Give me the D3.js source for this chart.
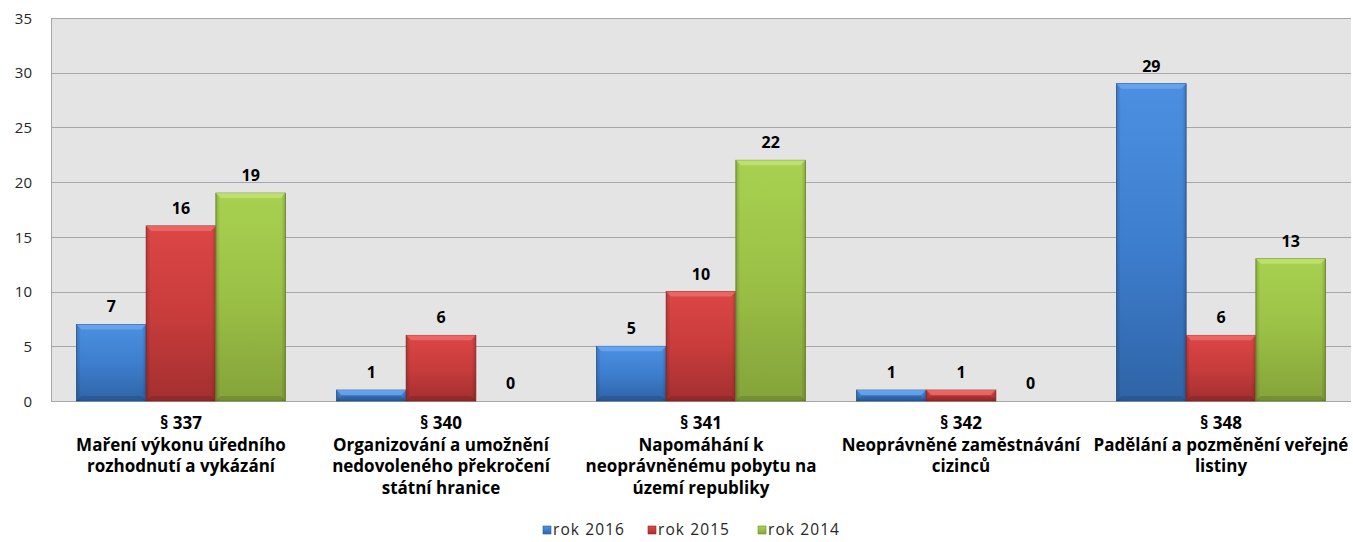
<!DOCTYPE html>
<html><head><meta charset="utf-8">
<script src="https://cdn.jsdelivr.net/npm/d3@7"></script>
<style>
html,body{margin:0;padding:0;background:#fff;}
svg{display:block;}
text{font-family:"Open Sans",sans-serif;}
</style></head>
<body>
<svg id="chart" width="1353" height="542"></svg>
<script>
const categories = [
  ["§ 337","Maření výkonu úředního","rozhodnutí a vykázání"],
  ["§ 340","Organizování a umožnění","nedovoleného překročení","státní hranice"],
  ["§ 341","Napomáhání k","neoprávněnému pobytu na","území republiky"],
  ["§ 342","Neoprávněné zaměstnávání","cizinců"],
  ["§ 348","Padělání a pozměnění veřejné","listiny"]
];
const seriesNames = ["rok 2016","rok 2015","rok 2014"];
const rok2016 = [7, 1, 5, 1, 29];
const rok2015 = [16, 6, 10, 1, 6];
const rok2014 = [19, 0, 22, 0, 13];
const yTicks = [0, 5, 10, 15, 20, 25, 30, 35];

const seriesValues = [rok2016, rok2015, rok2014];
const palette = [
  {top:"#4c8fe0", mid:"#3e7ecf", bot:"#2f64a6", edge:"#2a5a96", hi:"#6eaaf0"},
  {top:"#dc4646", mid:"#c93c3c", bot:"#a32f2f", edge:"#8f2828", hi:"#f07070"},
  {top:"#a8d150", mid:"#9bc046", bot:"#84a33a", edge:"#6f8a30", hi:"#c4e676"}
];

const svg = d3.select("#chart");
const pLeft = 51, pRight = 1351, pTop = 18, pBottom = 401;

const y = d3.scaleLinear().domain([0, 35]).range([pBottom, pTop]);
const x0 = d3.scaleBand().domain(d3.range(categories.length)).range([pLeft, pRight])
  .paddingInner(0.196).paddingOuter(0.098);
const x1 = d3.scaleBand().domain(d3.range(seriesNames.length)).range([0, x0.bandwidth()]);

const defs = svg.append("defs");
palette.forEach((p, i) => {
  const g = defs.append("linearGradient").attr("id", "g" + i).attr("x1", 0).attr("y1", 0).attr("x2", 0).attr("y2", 1);
  g.append("stop").attr("offset", "0%").attr("stop-color", p.top);
  g.append("stop").attr("offset", "50%").attr("stop-color", p.mid);
  g.append("stop").attr("offset", "100%").attr("stop-color", p.bot);
});
const side = defs.append("linearGradient").attr("id", "side").attr("x1", 0).attr("y1", 0).attr("x2", 1).attr("y2", 0);
side.append("stop").attr("offset", "0%").attr("stop-color", "#000").attr("stop-opacity", 0.18);
side.append("stop").attr("offset", "6%").attr("stop-color", "#000").attr("stop-opacity", 0);
side.append("stop").attr("offset", "94%").attr("stop-color", "#000").attr("stop-opacity", 0);
side.append("stop").attr("offset", "100%").attr("stop-color", "#000").attr("stop-opacity", 0.18);

// plot background
svg.append("rect").attr("x", pLeft).attr("y", pTop).attr("width", pRight - pLeft).attr("height", pBottom - pTop)
  .attr("fill", "#e4e4e4");

// gridlines
svg.append("g").selectAll("line").data(yTicks.filter(t => t > 0)).join("line")
  .attr("x1", pLeft).attr("x2", pRight).attr("y1", d => Math.round(y(d)) + 0.5).attr("y2", d => Math.round(y(d)) + 0.5)
  .attr("stroke", "#a6a6a6").attr("stroke-width", 1);

// y axis
const yAxis = d3.axisLeft(y).tickValues(yTicks).tickSize(0).tickPadding(0).tickFormat(d3.format("d"));
const ya = svg.append("g").attr("transform", `translate(${pLeft},0)`).call(yAxis);
ya.select(".domain").attr("stroke", "#a6a6a6").attr("shape-rendering", "crispEdges");
ya.selectAll("text").attr("x", -19).attr("font-size", 15).attr("fill", "#262626")
  .attr("font-family", "'DejaVu Sans', sans-serif").attr("dy", "0.35em");

// bottom axis line
svg.append("line").attr("x1", pLeft).attr("x2", pRight).attr("y1", pBottom + 0.5).attr("y2", pBottom + 0.5)
  .attr("stroke", "#a6a6a6");

// bars
const groups = svg.append("g").selectAll("g").data(categories.map((c, i) => i)).join("g")
  .attr("transform", i => `translate(${x0(i)},0)`);

groups.each(function(ci) {
  const g = d3.select(this);
  seriesValues.forEach((vals, si) => {
    const v = vals[ci];
    const bx = x1(si), bw = x1.bandwidth();
    const by = y(v), bh = y(0) - y(v);
    const p = palette[si];
    if (bh > 0) {
      g.append("rect").attr("x", bx).attr("y", by).attr("width", bw).attr("height", bh)
        .attr("fill", `url(#g${si})`).attr("stroke", p.edge).attr("stroke-width", 0.8);
      g.append("rect").attr("x", bx).attr("y", by).attr("width", bw).attr("height", bh)
        .attr("fill", "url(#side)");
      const bev = Math.min(5, bh / 2);
      g.append("path")
        .attr("d", `M${bx},${by}L${bx + bw},${by}L${bx + bw - bev},${by + bev}L${bx + bev},${by + bev}Z`)
        .attr("fill", p.hi).attr("opacity", 0.75);
      g.append("path")
        .attr("d", `M${bx},${by + bh}L${bx + bw},${by + bh}L${bx + bw - bev},${by + bh - bev}L${bx + bev},${by + bh - bev}Z`)
        .attr("fill", "#000").attr("opacity", 0.12);
    }
    g.append("text").attr("x", bx + bw / 2).attr("y", by - 12)
      .attr("text-anchor", "middle").attr("font-size", 16).attr("font-weight", 700)
      .attr("fill", "#000").text(v);
  });
});

// category labels
const labels = svg.append("g").selectAll("text").data(categories).join("text")
  .attr("x", (d, i) => x0(i) + x0.bandwidth() / 2)
  .attr("y", 429)
  .attr("text-anchor", "middle").attr("font-size", 17).attr("font-weight", 700).attr("fill", "#000");
labels.each(function(lines) {
  d3.select(this).selectAll("tspan").data(lines).join("tspan")
    .attr("x", d3.select(this).attr("x"))
    .attr("dy", (d, j) => j === 0 ? 0 : 21.5)
    .text(d => d);
});

// legend
const legendX = [543, 648, 758];
const legend = svg.append("g").selectAll("g").data(seriesNames).join("g")
  .attr("transform", (d, i) => `translate(${legendX[i]},526)`);
legend.append("rect").attr("width", 8).attr("height", 8).attr("fill", (d, i) => `url(#g${i})`)
  .attr("stroke", (d, i) => palette[i].edge).attr("stroke-width", 0.6);
legend.append("text").attr("x", 10).attr("y", 4).attr("dy", "0.35em")
  .attr("font-size", 15.5).attr("letter-spacing", 1.1).attr("fill", "#262626").text(d => d);
</script>
</body></html>
